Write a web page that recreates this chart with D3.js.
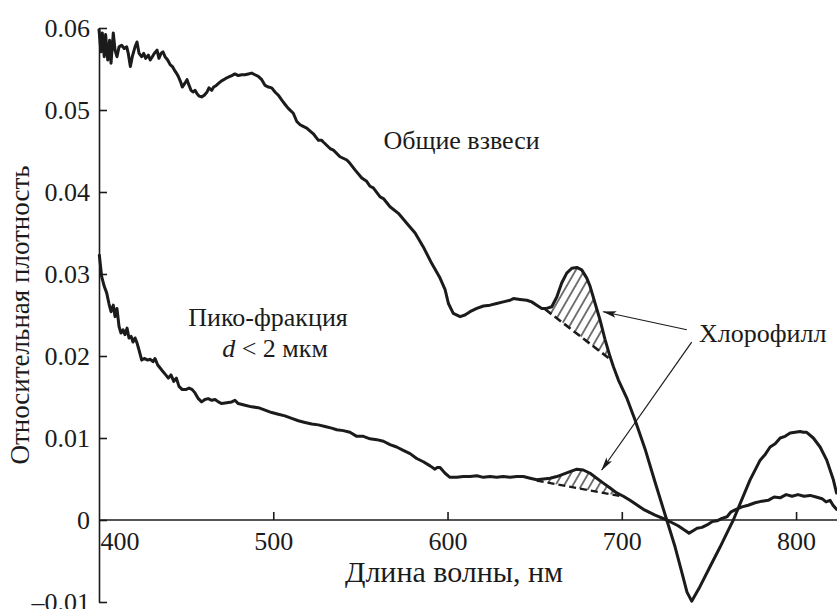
<!DOCTYPE html>
<html>
<head>
<meta charset="utf-8">
<script src="https://cdn.jsdelivr.net/npm/d3@7"></script>
<style>
  html, body { margin: 0; padding: 0; background: #fff; }
  svg { display: block; font-family: "Liberation Serif", "Times New Roman", serif; }
</style>
</head>
<body>
<svg id="chart" width="837" height="609"></svg>
<script>
// Absorption spectra: [wavelength nm, relative optical density]
const totalSuspended = [
  [400.0,0.0598],[401.1,0.0571],[401.9,0.0594],[403.0,0.0565],[403.8,0.0592],[405.0,0.0561],
  [406.1,0.0585],[406.9,0.0557],[408.2,0.0594],[409.2,0.0573],[410.3,0.0565],[411.5,0.0577],
  [413.0,0.0579],[414.5,0.0575],[415.9,0.0577],[416.8,0.0569],[418.0,0.0553],[419.1,0.0565],
  [420.7,0.0577],[421.8,0.0583],[423.0,0.0569],[424.5,0.0565],[425.7,0.0569],[426.8,0.0563],
  [428.3,0.0567],[429.4,0.0561],[430.6,0.0565],[431.7,0.0569],[433.3,0.0573],[434.4,0.0563],
  [435.6,0.0569],[436.7,0.0571],[437.9,0.0565],[439.4,0.0561],[440.9,0.0555],[442.1,0.0553],
  [443.2,0.0549],[444.4,0.0545],[445.5,0.0541],[446.7,0.0535],[447.8,0.0528],[449.4,0.0533],
  [450.5,0.0537],[451.7,0.0530],[452.8,0.0524],[453.9,0.0522],[455.1,0.0524],[456.2,0.0520],
  [457.4,0.0517],[458.9,0.0516],[460.4,0.0518],[462.0,0.0522],[463.1,0.0527],[464.7,0.0524],
  [465.8,0.0528],[467.3,0.0530],[468.9,0.0533],[470.0,0.0535],[471.6,0.0537],[473.1,0.0539],
  [474.2,0.0540],[476.2,0.0542],[478.0,0.0544],[479.9,0.0542],[481.9,0.0543],[483.8,0.0543],
  [485.7,0.0544],[487.6,0.0545],[489.5,0.0543],[491.4,0.0541],[493.4,0.0537],[495.3,0.0530],
  [497.2,0.0528],[499.1,0.0527],[501.0,0.0522],[502.9,0.0518],[504.9,0.0512],[506.7,0.0507],
  [508.6,0.0502],[511.5,0.0496],[513.5,0.0486],[515.4,0.0482],[517.2,0.0480],[519.2,0.0478],
  [523.0,0.0471],[525.9,0.0463],[527.8,0.0463],[528.7,0.0461],[532.6,0.0453],[534.5,0.0451],
  [538.3,0.0443],[542.2,0.0439],[544.0,0.0435],[546.9,0.0427],[550.8,0.0417],[553.6,0.0413],
  [555.5,0.0407],[557.4,0.0405],[561.3,0.0394],[563.2,0.0392],[567.0,0.0382],[571.8,0.0374],
  [576.6,0.0362],[581.4,0.0350],[586.1,0.0333],[590.9,0.0313],[595.7,0.0295],[598.6,0.0281],
  [600.5,0.0264],[603.3,0.0252],[607.2,0.0248],[610.0,0.0250],[612.9,0.0254],[616.8,0.0258],
  [620.6,0.0261],[624.4,0.0262],[628.2,0.0264],[632.0,0.0266],[635.9,0.0268],[637.8,0.0270],
  [641.6,0.0269],[645.5,0.0268],[648.3,0.0266],[651.2,0.0262],[654.1,0.0258],[656.9,0.0258],
  [659.8,0.0260],[662.7,0.0272],[665.5,0.0289],[668.4,0.0301],[671.3,0.0307],[674.2,0.0308],
  [677.0,0.0305],[679.9,0.0295],[681.8,0.0285],[684.7,0.0264],[687.5,0.0244],[690.4,0.0220],
  [693.3,0.0199],[695.2,0.0187],[698.0,0.0171],[702.8,0.0149],[707.6,0.0122],[713.3,0.0087],
  [719.1,0.0046],[725.8,0.0000],[730.6,-0.0033],[734.6,-0.0065],[737.4,-0.0088],[740.1,-0.0099],
  [744.9,-0.0081],[750.6,-0.0057],[756.4,-0.0033],[761.2,-0.0012],[764.0,0.0000],[767.9,0.0020],
  [773.6,0.0049],[779.4,0.0073],[782.3,0.0080],[785.1,0.0089],[788.0,0.0093],[790.9,0.0100],
  [793.7,0.0102],[796.6,0.0106],[799.5,0.0107],[802.3,0.0108],[804.2,0.0107],[806.1,0.0107],
  [809.9,0.0100],[813.8,0.0089],[817.6,0.0073],[821.4,0.0049],[823.2,0.0033]
];

// Pico fraction, d < 2 um
const picoFraction = [
  [400.2,0.0323],[401.5,0.0297],[403.0,0.0285],[404.4,0.0277],[405.7,0.0264],[406.9,0.0254],
  [408.2,0.0262],[409.2,0.0248],[410.3,0.0258],[411.5,0.0236],[412.6,0.0228],[413.8,0.0232],
  [414.9,0.0226],[416.1,0.0234],[417.2,0.0222],[418.4,0.0224],[419.5,0.0217],[420.7,0.0222],
  [421.8,0.0216],[423.0,0.0207],[424.5,0.0195],[426.0,0.0197],[427.9,0.0195],[429.4,0.0196],
  [431.0,0.0193],[432.1,0.0197],[433.7,0.0189],[435.2,0.0185],[436.7,0.0181],[438.3,0.0177],
  [439.8,0.0173],[441.3,0.0177],[442.9,0.0169],[444.4,0.0173],[445.9,0.0163],[447.8,0.0159],
  [449.8,0.0159],[451.7,0.0161],[453.5,0.0159],[455.1,0.0155],[457.0,0.0148],[458.9,0.0144],
  [460.8,0.0147],[462.7,0.0148],[464.7,0.0146],[466.6,0.0147],[468.5,0.0144],[470.4,0.0142],
  [473.3,0.0143],[476.2,0.0144],[478.0,0.0146],[479.9,0.0142],[483.8,0.0140],[487.6,0.0138],
  [491.4,0.0137],[495.3,0.0134],[499.1,0.0131],[502.9,0.0129],[506.7,0.0127],[510.6,0.0124],
  [514.4,0.0121],[518.2,0.0119],[522.1,0.0117],[525.9,0.0116],[529.7,0.0114],[533.5,0.0112],
  [536.4,0.0110],[540.2,0.0109],[544.0,0.0107],[547.9,0.0102],[551.7,0.0102],[555.5,0.0099],
  [559.4,0.0098],[563.2,0.0096],[567.0,0.0092],[570.8,0.0089],[574.6,0.0085],[578.5,0.0081],
  [582.3,0.0075],[586.1,0.0071],[590.0,0.0066],[592.8,0.0062],[594.1,0.0064],[595.7,0.0064],
  [598.6,0.0057],[601.4,0.0052],[605.3,0.0052],[609.1,0.0053],[612.9,0.0053],[616.8,0.0054],
  [620.6,0.0052],[624.4,0.0053],[628.2,0.0052],[632.0,0.0053],[635.9,0.0052],[639.7,0.0053],
  [643.5,0.0053],[647.4,0.0051],[651.2,0.0049],[655.0,0.0050],[658.8,0.0051],[662.7,0.0053],
  [666.5,0.0056],[670.3,0.0059],[674.2,0.0062],[677.9,0.0061],[681.8,0.0057],[685.6,0.0051],
  [689.4,0.0045],[693.3,0.0039],[697.1,0.0033],[700.9,0.0029],[704.7,0.0024],[712.4,0.0013],
  [719.1,0.0006],[725.8,0.0000],[732.3,-0.0007],[735.7,-0.0012],[738.6,-0.0016],[740.9,-0.0013],
  [743.2,-0.0010],[746.0,-0.0009],[748.9,-0.0006],[751.8,-0.0002],[754.6,-0.0001],[757.5,0.0002],
  [760.4,0.0004],[762.7,0.0010],[765.6,0.0013],[769.0,0.0016],[772.5,0.0018],[776.5,0.0021],
  [780.5,0.0023],[784.0,0.0024],[787.4,0.0028],[790.8,0.0027],[794.3,0.0031],[797.7,0.0029],
  [801.1,0.0031],[804.6,0.0029],[808.0,0.0030],[811.5,0.0028],[814.9,0.0026],[817.2,0.0022],
  [819.5,0.0024],[821.2,0.0018],[823.2,0.0013]
];

// Chlorophyll baselines (dashed chords under the red absorption peak)
const totalChlBase = [[656.0,0.0257],[694.0,0.0195]];
const picoChlBase = [[651.2,0.0048],[699.5,0.0029]];

// Arrows from the "Хлорофилл" label to each peak: [start, tip]
const chlArrowTotal = [[737.3,0.0232],[689.4,0.0254]];
const chlArrowPico = [[740.1,0.0217],[688.5,0.0061]];

const xTicks = [400, 500, 600, 700, 800];
const yTicks = [-0.01, 0, 0.01, 0.02, 0.03, 0.04, 0.05, 0.06];

const svg = d3.select("#chart");
const ink = "#1b1b1b";

const x = d3.scaleLinear().domain([400, 823.2]).range([99, 836.5]);
const y = d3.scaleLinear().domain([-0.01, 0.06]).range([602, 28]);

// hatch pattern
const defs = svg.append("defs");
defs.append("pattern")
  .attr("id", "hatch")
  .attr("patternUnits", "userSpaceOnUse")
  .attr("width", 7.5).attr("height", 7.5)
  .attr("patternTransform", "rotate(30)")
  .append("line")
  .attr("x1", 3.75).attr("y1", 0).attr("x2", 3.75).attr("y2", 7.5)
  .attr("stroke", ink).attr("stroke-width", 1.2);

defs.append("marker")
  .attr("id", "arrowhead")
  .attr("viewBox", "0 0 14 8")
  .attr("refX", 13).attr("refY", 4)
  .attr("markerWidth", 14).attr("markerHeight", 8)
  .attr("markerUnits", "userSpaceOnUse")
  .attr("orient", "auto")
  .append("path")
  .attr("d", "M0,0.6 L14,4 L0,7.4 L3,4 Z")
  .attr("fill", ink);

// axes
const yAxis = d3.axisLeft(y)
  .tickValues(yTicks)
  .tickSizeInner(-8).tickSizeOuter(0).tickPadding(9)
  .tickFormat(d => d === 0 ? "0" : (d < 0 ? "\u2013" + d3.format(".2f")(-d) : d3.format(".2f")(d)));

const gy = svg.append("g").attr("transform", `translate(${x(400)},0)`).call(yAxis);

const xAxis = d3.axisBottom(x)
  .tickValues(xTicks)
  .tickSizeInner(-8).tickSizeOuter(0).tickPadding(12)
  .tickFormat(d3.format("d"));

const gx = svg.append("g").attr("transform", `translate(0,${y(0)})`).call(xAxis);

[gx, gy].forEach(g => {
  g.select(".domain").attr("stroke", ink).attr("stroke-width", 1.6);
  g.selectAll(".tick line").attr("stroke", ink).attr("stroke-width", 1.6);
  g.selectAll(".tick text").attr("fill", ink)
    .style("font-family", "'Liberation Serif', serif").style("font-size", "26px");
});
gx.select(".domain").attr("d", `M${x(400)},0H837`);
gx.selectAll(".tick").filter(d => d === 400).select("line").remove();
gx.selectAll(".tick").filter(d => d === 400).select("text").attr("text-anchor", "start").attr("x", 1);

// hatched chlorophyll areas
function hatchPolygon(series, base) {
  const [a, b] = base;
  const top = series.filter(p => p[0] > a[0] && p[0] < b[0]);
  return [a, ...top, b];
}
const poly = d3.line().x(d => x(d[0])).y(d => y(d[1]));
[[totalSuspended, totalChlBase], [picoFraction, picoChlBase]].forEach(([s, b]) => {
  svg.append("path")
    .attr("d", poly(hatchPolygon(s, b)) + "Z")
    .attr("fill", "url(#hatch)")
    .attr("stroke", "none");
});

// dashed baselines
svg.append("path").attr("d", poly(totalChlBase))
  .attr("stroke", ink).attr("stroke-width", 2.6).attr("stroke-dasharray", "8,4").attr("fill", "none");
svg.append("path").attr("d", poly(picoChlBase))
  .attr("stroke", ink).attr("stroke-width", 2.4).attr("stroke-dasharray", "7,4").attr("fill", "none");

// spectra
const line = d3.line().x(d => x(d[0])).y(d => y(d[1]));
[totalSuspended, picoFraction].forEach(s => {
  svg.append("path")
    .attr("d", line(s))
    .attr("fill", "none")
    .attr("stroke", ink)
    .attr("stroke-width", 3)
    .attr("stroke-linejoin", "round")
    .attr("stroke-linecap", "round");
});

// arrows
[chlArrowTotal, chlArrowPico].forEach(a => {
  svg.append("line")
    .attr("x1", x(a[0][0])).attr("y1", y(a[0][1]))
    .attr("x2", x(a[1][0])).attr("y2", y(a[1][1]))
    .attr("stroke", ink).attr("stroke-width", 1.2)
    .attr("marker-end", "url(#arrowhead)");
});

// labels
const lab = (t, nm, v, anchor) => svg.append("text")
  .attr("x", x(nm)).attr("y", y(v))
  .attr("text-anchor", anchor || "start")
  .attr("fill", ink).style("font-size", "26px").text(t);

lab("Общие взвеси", 563.2, 0.0453);
lab("Пико-фракция", 497, 0.0237, "middle");
const dl = svg.append("text")
  .attr("x", x(501)).attr("y", y(0.0199))
  .attr("text-anchor", "middle").attr("fill", ink).style("font-size", "26px");
dl.append("tspan").style("font-style", "italic").text("d");
dl.append("tspan").text(" < 2 мкм");
lab("Хлорофилл", 744.3, 0.0217);

// axis titles
svg.append("text")
  .attr("x", 454).attr("y", 582)
  .attr("text-anchor", "middle").attr("fill", ink).style("font-size", "30px")
  .text("Длина волны, нм");
svg.append("text")
  .attr("transform", "translate(29,315) rotate(-90)")
  .attr("text-anchor", "middle").attr("fill", ink).style("font-size", "27px")
  .text("Относительная плотность");
</script>
</body>
</html>
